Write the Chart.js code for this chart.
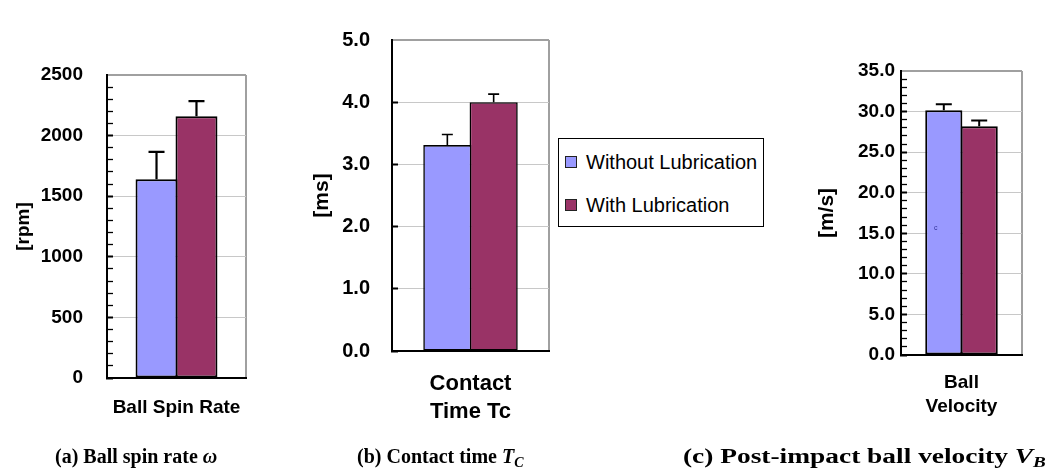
<!DOCTYPE html>
<html>
<head>
<meta charset="utf-8">
<script src="https://cdn.jsdelivr.net/npm/chart.js@4.4.1/dist/chart.umd.min.js"></script>
<style>
html,body{margin:0;padding:0;background:#fff;}
body{width:1055px;height:476px;position:relative;overflow:hidden;font-family:"Liberation Sans",Arial,sans-serif;}
canvas{position:absolute;top:0;}
.cap{position:absolute;top:446px;font-family:"Liberation Serif","Times New Roman",serif;font-weight:bold;font-size:20px;line-height:20px;white-space:nowrap;color:#000;}
.cap i{font-style:italic;}
.cap sub{font-size:14px;font-style:italic;vertical-align:-4px;line-height:0;}
#legend{position:absolute;left:558px;top:138px;width:206px;height:89px;border:1px solid #000;box-sizing:border-box;background:#fff;}
#legend .sw{position:absolute;width:12px;height:12px;box-sizing:border-box;border:1px solid #222;}
#legend .tx{position:absolute;font-family:"Liberation Sans",Arial,sans-serif;font-size:20px;line-height:20px;color:#000;white-space:nowrap;}
#cmark{position:absolute;left:934px;top:224px;font-size:7px;line-height:8px;color:#333399;font-family:"Liberation Sans",Arial,sans-serif;}
</style>
</head>
<body>
<canvas id="chartA" width="260" height="476" style="left:0px"></canvas>
<canvas id="chartB" width="270" height="476" style="left:290px"></canvas>
<canvas id="chartC" width="265" height="476" style="left:790px"></canvas>
<div id="legend"></div>
<div id="cmark">c</div>
<div class="cap" style="left:55px">(a) Ball spin rate <i>ω</i></div>
<div class="cap" style="left:357px">(b) Contact time <i>T</i><sub>C</sub></div>
<div class="cap" style="left:683px;transform:scaleX(1.37);transform-origin:0 50%">(c) Post-impact ball velocity <i>V</i><sub>B</sub></div>
<script>
// ---- data ----
const seriesLabels = ['Without Lubrication', 'With Lubrication'];
const seriesColors = ['#9999FF', '#993366'];

const spinCategories = ['Ball Spin Rate'];
const spinWithout = [1640];
const spinWith = [2160];
const spinErrWithout = [225];
const spinErrWith = [125];
const spinTickLabels = ['0', '500', '1000', '1500', '2000', '2500'];

const timeCategories = [['Contact', 'Time Tc']];
const timeWithout = [3.31];
const timeWith = [4.0];
const timeErrWithout = [0.17];
const timeErrWith = [0.13];
const timeTickLabels = ['0.0', '1.0', '2.0', '3.0', '4.0', '5.0'];

const velCategories = [['Ball', 'Velocity']];
const velWithout = [30.15];
const velWith = [28.2];
const velErrWithout = [0.75];
const velErrWith = [0.7];
const velTickLabels = ['0.0', '5.0', '10.0', '15.0', '20.0', '25.0', '30.0', '35.0'];

// ---- error bar plugin ----
const errorBarPlugin = {
  id: 'errorBars',
  afterDatasetsDraw(chart, args, opts) {
    const ctx = chart.ctx;
    const ys = chart.scales.y;
    chart.data.datasets.forEach((ds, i) => {
      const meta = chart.getDatasetMeta(i);
      meta.data.forEach((bar, j) => {
        const top = ys.getPixelForValue(ds.data[j] + ds.errors[j]);
        ctx.save();
        ctx.strokeStyle = '#000';
        ctx.lineWidth = opts.width;
        ctx.beginPath();
        ctx.moveTo(bar.x, bar.y);
        ctx.lineTo(bar.x, top);
        ctx.moveTo(bar.x - opts.cap / 2, top);
        ctx.lineTo(bar.x + opts.cap / 2, top);
        ctx.stroke();
        ctx.restore();
      });
    });
  }
};

function makeChart(id, c) {
  const majorVals = c.tickLabels.map(parseFloat);
  const isMajor = (v) => majorVals.some(m => Math.abs(m - v) < 1e-6);
  const isMax = (ctx) => ctx.tick && Math.abs(ctx.tick.value - c.max) < 1e-6;
  return new Chart(document.getElementById(id), {
    type: 'bar',
    data: {
      labels: c.categories,
      datasets: [
        { label: seriesLabels[0], data: c.without, errors: c.errWithout, backgroundColor: seriesColors[0],
          borderColor: '#000', borderWidth: c.bw, borderSkipped: false, categoryPercentage: c.cp, barPercentage: c.bp },
        { label: seriesLabels[1], data: c.with, errors: c.errWith, backgroundColor: seriesColors[1],
          borderColor: '#000', borderWidth: c.bw, borderSkipped: false, categoryPercentage: c.cp, barPercentage: c.bp }
      ]
    },
    options: {
      responsive: false, animation: false, devicePixelRatio: 1,
      layout: { padding: { left: 0, top: c.top, right: c.right, bottom: c.bottom } },
      plugins: { legend: { display: false }, tooltip: { enabled: false }, errorBars: { width: c.ew, cap: c.cap } },
      scales: {
        x: {
          offset: true,
          grid: { display: true, offset: true, color: '#a0a0a0', lineWidth: 2, drawTicks: false },
          border: { color: '#000', width: 2 },
          ticks: { color: '#000', padding: c.xPad, maxRotation: 0, minRotation: 0,
                   font: { family: 'Liberation Sans', weight: 'bold', size: c.xFont, lineHeight: c.xLH } },
          afterFit: (s) => { s.height = 80; s.paddingLeft = 0; s.paddingRight = 0; }
        },
        y: {
          min: 0, max: c.max,
          ticks: {
            stepSize: c.step, autoSkip: false, color: '#000', padding: c.yPad,
            font: { family: 'Liberation Sans', weight: 'bold', size: c.yFont },
            callback: (v) => {
              const k = majorVals.findIndex(m => Math.abs(m - v) < 1e-6);
              return k >= 0 ? c.tickLabels[k] : '';
            }
          },
          grid: {
            color: (ctx) => isMax(ctx) ? '#a0a0a0' : (ctx.tick && isMajor(ctx.tick.value) ? '#c8c8c8' : 'rgba(0,0,0,0)'),
            lineWidth: (ctx) => isMax(ctx) ? 2 : 1,
            tickColor: (ctx) => isMax(ctx) ? 'rgba(0,0,0,0)' : '#000',
            tickWidth: (ctx) => (ctx.tick && isMajor(ctx.tick.value)) ? 2 : 1.3,
            tickLength: -6
          },
          border: { color: '#000', width: 2 },
          title: { display: true, text: c.yTitle, color: '#000', padding: { top: c.tPad, bottom: 0 },
                   font: { family: 'Liberation Sans', weight: 'bold', size: c.tFont, lineHeight: 1.2 } },
          afterFit: (s) => { s.width = c.yW; }
        }
      }
    },
    plugins: [errorBarPlugin]
  });
}

makeChart('chartA', {
  categories: spinCategories, without: spinWithout, with: spinWith, errWithout: spinErrWithout, errWith: spinErrWith,
  tickLabels: spinTickLabels, max: 2500, step: 100, yTitle: '[rpm]',
  top: 75, right: 14, bottom: 18, yW: 107, yPad: 30, yFont: 19, tFont: 19, tPad: 12,
  xFont: 19, xLH: 1.2, xPad: 18, cp: 0.575, bp: 1.05, bw: 2, ew: 2.2, cap: 16
});
makeChart('chartB', {
  categories: timeCategories, without: timeWithout, with: timeWith, errWithout: timeErrWithout, errWith: timeErrWith,
  tickLabels: timeTickLabels, max: 5, step: 1, yTitle: '[ms]',
  top: 14, right: 11, bottom: 45, yW: 102, yPad: 28, yFont: 20, tFont: 21, tPad: 20,
  xFont: 22, xLH: 1.27, xPad: 19, cp: 0.59, bp: 1.04, bw: 1.6, ew: 1.6, cap: 11
});
makeChart('chartC', {
  categories: velCategories, without: velWithout, with: velWith, errWithout: velErrWithout, errWith: velErrWith,
  tickLabels: velTickLabels, max: 35, step: 1, yTitle: '[m/s]',
  top: 71, right: 33, bottom: 41, yW: 111, yPad: 12, yFont: 19, tFont: 21, tPad: 25,
  xFont: 19, xLH: 1.26, xPad: 16, cp: 0.585, bp: 1.05, bw: 2, ew: 2, cap: 16
});

// ---- legend (HTML, from the series arrays) ----
const legendEl = document.getElementById('legend');
const legendRows = [23, 66];
seriesLabels.forEach((lab, i) => {
  const sw = document.createElement('div');
  sw.className = 'sw';
  sw.style.left = '6px';
  sw.style.top = (legendRows[i] - 6) + 'px';
  sw.style.background = seriesColors[i];
  legendEl.appendChild(sw);
  const tx = document.createElement('div');
  tx.className = 'tx';
  tx.style.left = '27px';
  tx.style.top = (legendRows[i] - 10) + 'px';
  tx.textContent = lab;
  legendEl.appendChild(tx);
});
</script>
</body>
</html>
